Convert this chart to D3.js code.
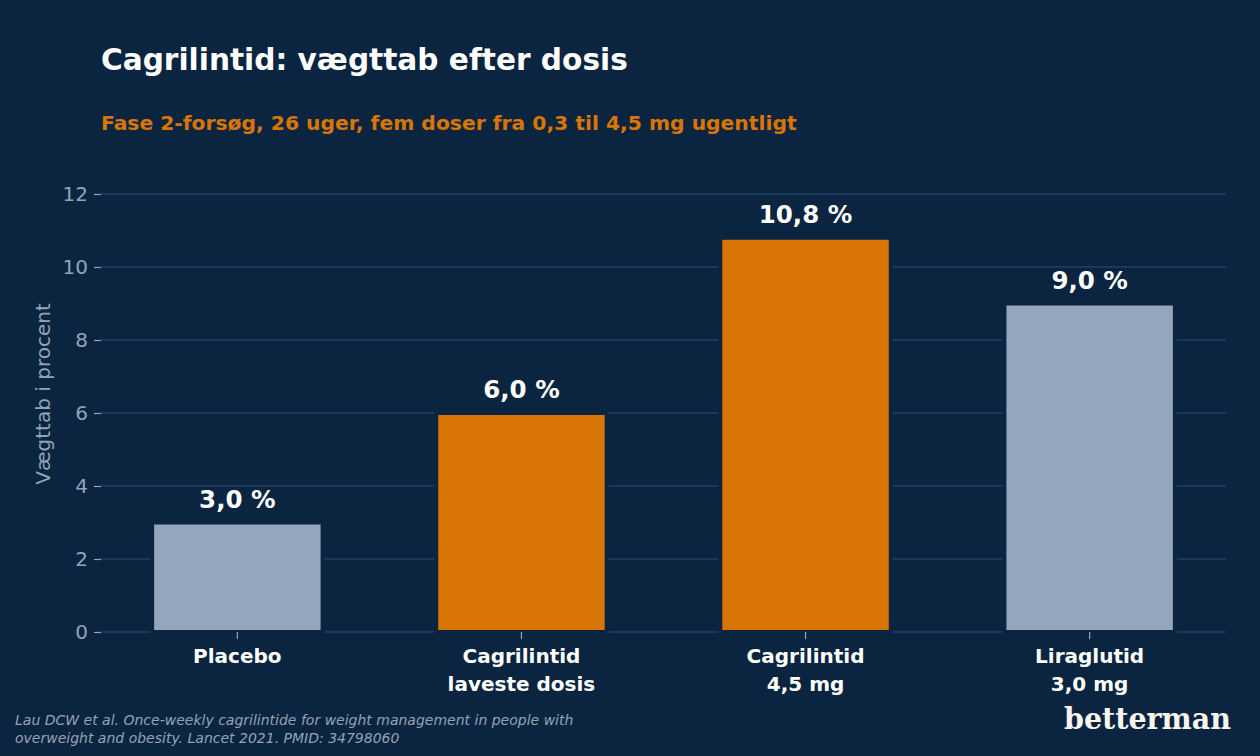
<!DOCTYPE html>
<html>
<head>
<meta charset="utf-8">
<script src="https://cdn.jsdelivr.net/npm/d3@7"></script>
<style>
  html, body { margin: 0; padding: 0; background: #0b2540; }
  svg { display: block; }
  text { font-family: "DejaVu Sans", sans-serif; }
</style>
</head>
<body>
<div class="visHolder"></div>
<script>
// data
let categories = ['Placebo', 'Cagrilintid\nlaveste dosis', 'Cagrilintid\n4,5 mg', 'Liraglutid\n3,0 mg'];
let values = [3.0, 6.0, 10.8, 9.0];
let valueLabels = ['3,0 %', '6,0 %', '10,8 %', '9,0 %'];
let highlight = [false, true, true, false];
let yTicks = [0, 2, 4, 6, 8, 10, 12];

let width = 1260;
let height = 756;
let bg = '#0b2540';

let svg = d3.select('.visHolder').append('svg')
  .attr('width', width)
  .attr('height', height);

svg.append('rect').attr('width', width).attr('height', height).attr('fill', bg);

let xScale = d3.scaleBand()
  .domain(d3.range(categories.length))
  .range([101, 1226])
  .paddingInner(0.4)
  .paddingOuter(0.18);

let yScale = d3.scaleLinear()
  .domain([0, 12])
  .range([632, 194]);

// gridlines
svg.append('g')
  .selectAll('line')
  .data(yTicks)
  .join('line')
  .attr('x1', 101)
  .attr('x2', 1226)
  .attr('y1', d => yScale(d))
  .attr('y2', d => yScale(d))
  .attr('stroke', '#1f4068')
  .attr('stroke-width', 1.6);

// y axis
let yAxis = d3.axisLeft(yScale).tickValues(yTicks).tickSize(7).tickPadding(6);
let yg = svg.append('g')
  .attr('transform', 'translate(101,0)')
  .call(yAxis);
yg.select('.domain').remove();
yg.selectAll('.tick line').attr('stroke', '#94a3b8').attr('stroke-width', 1.2);
yg.selectAll('.tick text')
  .attr('fill', '#94a3b8')
  .style('font-size', '20px')
  .style('font-family', '"DejaVu Sans", sans-serif');

// bars
svg.append('g')
  .selectAll('rect')
  .data(values)
  .join('rect')
  .attr('x', (d, i) => xScale(i))
  .attr('y', d => yScale(d))
  .attr('width', xScale.bandwidth())
  .attr('height', d => yScale(0) - yScale(d))
  .attr('fill', (d, i) => highlight[i] ? '#d97504' : '#94a5bd')
  .attr('stroke', bg)
  .attr('stroke-width', 4);

// x axis
let xAxis = d3.axisBottom(xScale).tickSize(7).tickFormat('');
let xg = svg.append('g')
  .attr('transform', 'translate(0,632)')
  .call(xAxis);
xg.select('.domain').remove();
xg.selectAll('.tick line').attr('stroke', '#94a3b8').attr('stroke-width', 1.2);

// category labels
svg.append('g')
  .selectAll('text')
  .data(categories)
  .join('text')
  .attr('x', (d, i) => xScale(i) + xScale.bandwidth() / 2)
  .attr('y', 663)
  .attr('text-anchor', 'middle')
  .attr('fill', '#ffffff')
  .style('font-size', '20px')
  .style('font-weight', 'bold')
  .each(function (d) {
    let lines = d.split('\n');
    d3.select(this).selectAll('tspan')
      .data(lines)
      .join('tspan')
      .attr('x', d3.select(this).attr('x'))
      .attr('dy', (l, j) => j === 0 ? 0 : 28)
      .text(l => l);
  });

// value labels
svg.append('g')
  .selectAll('text')
  .data(values)
  .join('text')
  .attr('x', (d, i) => xScale(i) + xScale.bandwidth() / 2)
  .attr('y', d => yScale(d) - 15)
  .attr('text-anchor', 'middle')
  .attr('fill', '#ffffff')
  .style('font-size', '24.5px')
  .style('font-weight', 'bold')
  .text((d, i) => valueLabels[i]);

// y label
svg.append('text')
  .attr('transform', 'translate(50,394) rotate(-90)')
  .attr('text-anchor', 'middle')
  .attr('fill', '#94a3b8')
  .style('font-size', '20px')
  .text('Vægttab i procent');

// titles
svg.append('text')
  .attr('x', 101)
  .attr('y', 70)
  .attr('fill', '#ffffff')
  .style('font-size', '29.6px')
  .style('font-weight', 'bold')
  .text('Cagrilintid: vægttab efter dosis');

svg.append('text')
  .attr('x', 101)
  .attr('y', 130)
  .attr('fill', '#d97504')
  .style('font-size', '20.3px')
  .style('font-weight', 'bold')
  .text('Fase 2-forsøg, 26 uger, fem doser fra 0,3 til 4,5 mg ugentligt');

// source
let source = ['Lau DCW et al. Once-weekly cagrilintide for weight management in people with',
              'overweight and obesity. Lancet 2021. PMID: 34798060'];
svg.append('g')
  .selectAll('text')
  .data(source)
  .join('text')
  .attr('x', 15)
  .attr('y', (d, i) => 725 + i * 18)
  .attr('fill', '#94a3b8')
  .style('font-size', '14px')
  .style('font-style', 'italic')
  .text(d => d);

// logo
svg.append('text')
  .attr('x', 1231)
  .attr('y', 729)
  .attr('text-anchor', 'end')
  .attr('fill', '#f8f5ef')
  .style('font-family', '"DejaVu Serif", serif')
  .style('font-size', '30px')
  .style('font-weight', 'bold')
  .attr('textLength', 167)
  .attr('lengthAdjust', 'spacingAndGlyphs')
  .text('betterman');
</script>
</body>
</html>
